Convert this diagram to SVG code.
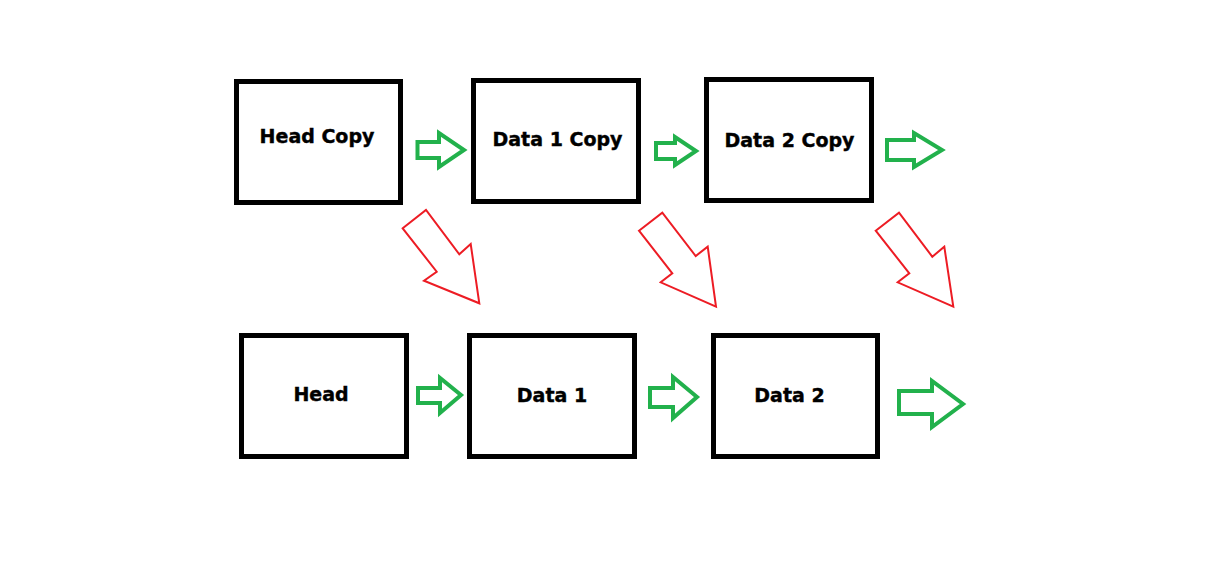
<svg xmlns="http://www.w3.org/2000/svg" width="1213" height="563" viewBox="0 0 1213 563">
<style>
.box{fill:#fff;stroke:#000;stroke-width:5}
.lbl{font-family:"DejaVu Sans",sans-serif;font-weight:bold;font-size:19px;fill:#000;text-anchor:middle;stroke:#000;stroke-width:0.4}
.g{fill:none;stroke:#22b14c;stroke-width:4;stroke-linejoin:miter}
.r{fill:none;stroke:#ed1c24;stroke-width:2;stroke-linejoin:miter}
</style>
<rect width="1213" height="563" fill="#fff"/>
<g id="headcopy"><rect class="box" x="236.5" y="81.5" width="164" height="121"/><text class="lbl" x="317" y="143">Head Copy</text></g>
<g id="data1copy"><rect class="box" x="473.5" y="80.5" width="165" height="121"/><text class="lbl" x="557.5" y="146">Data 1 Copy</text></g>
<g id="data2copy"><rect class="box" x="706.5" y="79.5" width="165" height="121"/><text class="lbl" x="789.5" y="147">Data 2 Copy</text></g>
<g id="head"><rect class="box" x="241.5" y="335.5" width="165" height="121"/><text class="lbl" x="321" y="401">Head</text></g>
<g id="data1"><rect class="box" x="469.5" y="335.5" width="165" height="121"/><text class="lbl" x="552" y="402">Data 1</text></g>
<g id="data2"><rect class="box" x="713.5" y="335.5" width="164" height="121"/><text class="lbl" x="789.5" y="402">Data 2</text></g>
<g id="connectors">
<polygon class="g" points="417.5,142 439,142 439,133 464,150 439,167 439,158 417.5,158"/>
<polygon class="g" points="656,143 675,143 675,137 696,151 675,165 675,159 656,159"/>
<polygon class="g" points="887,140 914,140 914,133 942,150 914,167 914,160 887,160"/>
<polygon class="g" points="418,388 440,388 440,378 461,395 440,413 440,403 418,403"/>
<polygon class="g" points="650,388 673,388 673,377 697,397 673,418 673,407 650,407"/>
<polygon class="g" points="899,391 932,391 932,381 963,404 932,427 932,414 899,414"/>
<polygon class="r" points="402.7,228.3 426,210 459.3,254.3 470.7,244 479.3,303.3 424,280.7 436.7,271.7"/>
<polygon class="r" points="639,230.7 662.3,212.7 695.7,256 707.7,246.7 716,306.7 660.7,282.3 672.3,273.3"/>
<polygon class="r" points="875.7,230.7 899,212.7 932.3,256.7 944.3,246.7 953.3,306.7 897.7,282.3 909.3,273.3"/>
</g>
</svg>
